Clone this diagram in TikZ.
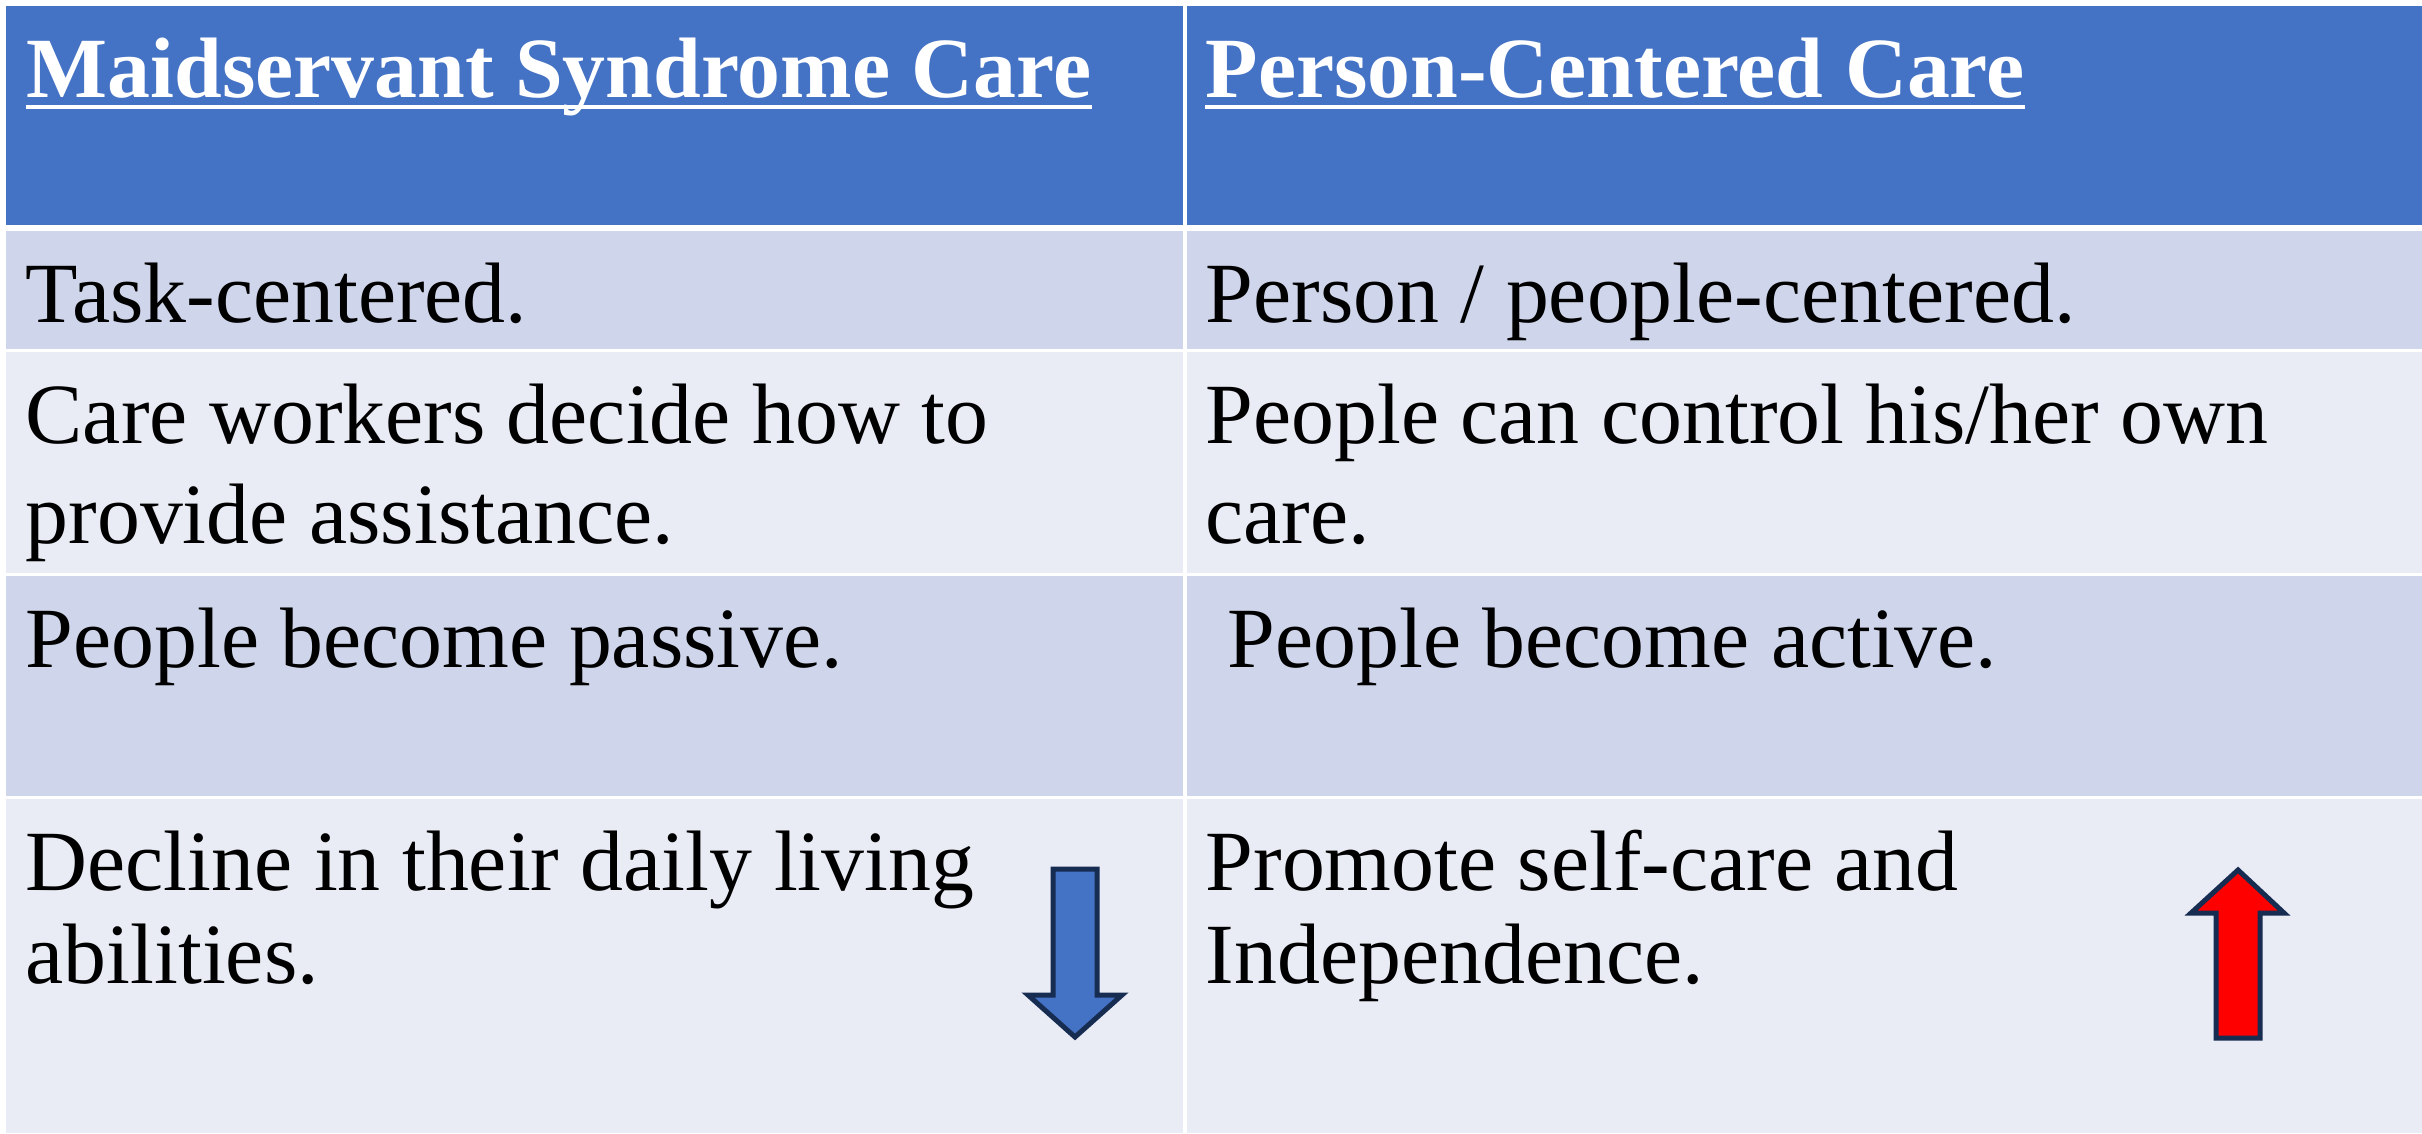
\documentclass[tikz,border=0pt]{standalone}
\usepackage{fontspec}
\setmainfont{Liberation Serif}
\definecolor{hdrblue}{HTML}{4472C4}
\definecolor{rowdark}{HTML}{CFD5EA}
\definecolor{rowlight}{HTML}{E9EBF5}
\definecolor{arrowedge}{HTML}{172C51}
\begin{document}
\begin{tikzpicture}[x=0.01cm,y=-0.01cm,
  cell/.style={inner sep=0pt, anchor=base west, font=\fontsize{24.4}{29.3}\selectfont},
  hdr/.style={cell, text=white, font=\fontsize{24.4}{29.3}\selectfont\bfseries},
  arrowshape/.style={draw=arrowedge, line width=0.05cm, line join=miter}]
\useasboundingbox[fill=white] (0,0) rectangle (2422,1133);
% cells
\fill[hdrblue] (6,6) rectangle (1183,225);
\fill[hdrblue] (1187,6) rectangle (2422,225);
\fill[rowdark] (6,231) rectangle (1183,349);
\fill[rowdark] (1187,231) rectangle (2422,349);
\fill[rowlight] (6,352) rectangle (1183,573);
\fill[rowlight] (1187,352) rectangle (2422,573);
\fill[rowdark] (6,576) rectangle (1183,796);
\fill[rowdark] (1187,576) rectangle (2422,796);
\fill[rowlight] (6,799) rectangle (1183,1133);
\fill[rowlight] (1187,799) rectangle (2422,1133);
% header
\node[hdr] (h1) at (26,97) {Maidservant Syndrome Care};
\node[hdr] (h2) at (1205,97) {Person-Centered Care};
\draw[white, line width=0.036cm] ([yshift=-0.1cm]h1.base west) -- ([yshift=-0.1cm]h1.base east);
\draw[white, line width=0.036cm] ([yshift=-0.1cm]h2.base west) -- ([yshift=-0.1cm]h2.base east);
% row 1
\node[cell] (a1) at (25,322) {Task-centered.};
\node[cell] (b1) at (1205,322) {Person / people-centered.};
% row 2
\node[cell] (a2) at (25,443) {Care workers decide how to};
\node[cell] (a2b) at (25,543) {provide assistance.};
\node[cell] (b2) at (1205,443) {People can control his/her own};
\node[cell] (b2b) at (1205,543) {care.};
% row 3
\node[cell] (a3) at (25,667) {People become passive.};
\node[cell] (b3) at (1227,667) {People become active.};
% row 4
\node[cell] (a4) at (25,890) {Decline in their daily living};
\node[cell] (a4b) at (25,983) {abilities.};
\node[cell] (b4) at (1205,890) {Promote self-care and};
\node[cell] (b4b) at (1205,983) {Independence.};
% arrows
\draw[arrowshape, fill=hdrblue] (1053,869) -- (1097,869) -- (1097,995) -- (1122,995)
  -- (1075,1037) -- (1028,995) -- (1053,995) -- cycle;
\draw[arrowshape, fill=red] (2216,1038) -- (2260,1038) -- (2260,913) -- (2284,913)
  -- (2238,870) -- (2191,913) -- (2216,913) -- cycle;
\end{tikzpicture}
\end{document}
